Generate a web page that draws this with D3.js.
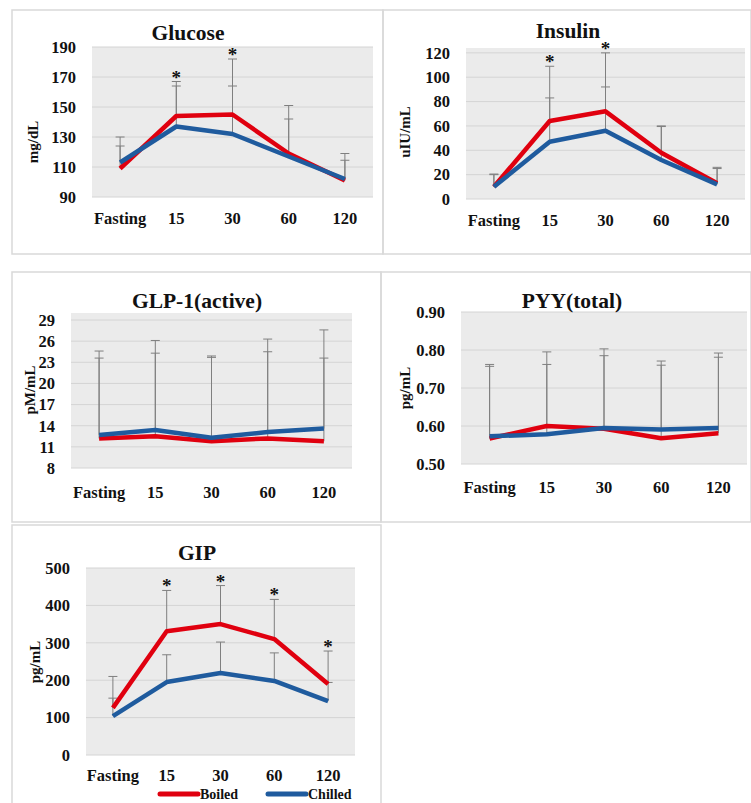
<!DOCTYPE html>
<html>
<head>
<meta charset="utf-8">
<script src="https://cdn.jsdelivr.net/npm/d3@7"></script>
<style>
  body { margin: 0; background: #fff; }
  text { font-family: "Liberation Serif", "DejaVu Serif", serif; font-weight: bold; fill: #111; }
</style>
</head>
<body>
<div id="chart"></div>
<script>
// categories (time points)
var categories = ["Fasting", "15", "30", "60", "120"];

// Glucose (mg/dL)
var glucoseBoiled = [109, 144, 145, 119, 101];
var glucoseChilled = [113, 137, 132, 117, 102];
var glucoseBoiledSD = [130, 167, 182, 151, 119];
var glucoseChilledSD = [124, 164, 164, 142, 114.5];
var glucoseSig = [0, 1, 1, 0, 0];
var glucoseTicks = [90, 110, 130, 150, 170, 190];

// Insulin (uIU/mL)
var insulinBoiled = [10, 64, 72, 38, 13];
var insulinChilled = [10, 47, 56, 32, 12];
var insulinBoiledSD = [20.5, 109, 120, 60, 26];
var insulinChilledSD = [20, 83, 92, 59.5, 25];
var insulinSig = [0, 1, 1, 0, 0];
var insulinTicks = [0, 20, 40, 60, 80, 100, 120];

// GLP-1 active (pM/mL)
var glpBoiled = [12.2, 12.5, 11.8, 12.2, 11.8];
var glpChilled = [12.7, 13.4, 12.3, 13.1, 13.6];
var glpBoiledSD = [24.6, 26.1, 23.9, 26.3, 27.6];
var glpChilledSD = [23.6, 24.3, 23.7, 24.5, 23.6];
var glpSig = [0, 0, 0, 0, 0];
var glpTicks = [8, 11, 14, 17, 20, 23, 26, 29];

// PYY total (pg/mL)
var pyyBoiled = [0.567, 0.600, 0.593, 0.568, 0.581];
var pyyChilled = [0.573, 0.578, 0.595, 0.591, 0.595];
var pyyBoiledSD = [0.762, 0.795, 0.803, 0.771, 0.792];
var pyyChilledSD = [0.757, 0.762, 0.785, 0.760, 0.781];
var pyySig = [0, 0, 0, 0, 0];
var pyyTicks = [0.50, 0.60, 0.70, 0.80, 0.90];

// GIP (pg/mL)
var gipBoiled = [126, 331, 350, 310, 190];
var gipChilled = [104, 195, 219, 198, 144];
var gipBoiledSD = [210, 440, 453, 416, 278];
var gipChilledSD = [152, 268, 302, 273, 194];
var gipSig = [0, 1, 1, 1, 1];
var gipTicks = [0, 100, 200, 300, 400, 500];

var seriesNames = ["Boiled", "Chilled"];
var colors = {Boiled: "#e0000f", Chilled: "#1f5b9e"};

var panels = [
  {title: "Glucose", unit: "mg/dL", boiled: glucoseBoiled, chilled: glucoseChilled,
   boiledSD: glucoseBoiledSD, chilledSD: glucoseChilledSD, sig: glucoseSig, ticks: glucoseTicks,
   domain: [90, 190], fmt: d3.format("d"),
   box: [12, 10, 383, 254], plot: {l: 92, r: 373, t: 47, b: 197},
   titleX: 188, titleY: 32, labX: 33, labY: 142, catY: 218},
  {title: "Insulin", unit: "uIU/mL", boiled: insulinBoiled, chilled: insulinChilled,
   boiledSD: insulinBoiledSD, chilledSD: insulinChilledSD, sig: insulinSig, ticks: insulinTicks,
   domain: [0, 124], fmt: d3.format("d"),
   box: [383, 10, 751, 254], plot: {l: 466, r: 745, t: 48, b: 199},
   titleX: 568, titleY: 30, labX: 405, labY: 132, catY: 220},
  {title: "GLP-1(active)", unit: "pM/mL", boiled: glpBoiled, chilled: glpChilled,
   boiledSD: glpBoiledSD, chilledSD: glpChilledSD, sig: glpSig, ticks: glpTicks,
   domain: [8, 30], fmt: d3.format("d"),
   box: [12, 272, 381, 522], plot: {l: 71, r: 352, t: 313, b: 468},
   titleX: 197, titleY: 300, labX: 30, labY: 390, catY: 492},
  {title: "PYY(total)", unit: "pg/mL", boiled: pyyBoiled, chilled: pyyChilled,
   boiledSD: pyyBoiledSD, chilledSD: pyyChilledSD, sig: pyySig, ticks: pyyTicks,
   domain: [0.5, 0.9], fmt: d3.format(".2f"),
   box: [381, 272, 751, 522], plot: {l: 461, r: 747, t: 312, b: 464},
   titleX: 572, titleY: 300, labX: 405, labY: 388, catY: 487},
  {title: "GIP", unit: "pg/mL", boiled: gipBoiled, chilled: gipChilled,
   boiledSD: gipBoiledSD, chilledSD: gipChilledSD, sig: gipSig, ticks: gipTicks,
   domain: [0, 500], fmt: d3.format("d"),
   box: [12, 525, 381, 812], plot: {l: 86, r: 355, t: 568, b: 755},
   titleX: 197, titleY: 552, labX: 35, labY: 662, catY: 775}
];

var svg = d3.select("#chart").append("svg")
  .attr("width", 751)
  .attr("height", 803);

panels.forEach(function(p) {
  var g = svg.append("g");

  // cadre du panneau
  g.append("rect")
    .attr("x", p.box[0]).attr("y", p.box[1])
    .attr("width", p.box[2] - p.box[0]).attr("height", p.box[3] - p.box[1])
    .attr("fill", "none").attr("stroke", "#d9d9d9").attr("stroke-width", 1.5);

  var x = d3.scaleBand().domain(categories).range([p.plot.l, p.plot.r]);
  var y = d3.scaleLinear().domain(p.domain).range([p.plot.b, p.plot.t]);

  // fond gris
  g.append("rect")
    .attr("x", p.plot.l).attr("y", p.plot.t)
    .attr("width", p.plot.r - p.plot.l).attr("height", p.plot.b - p.plot.t)
    .attr("fill", "#ebebeb");

  // grille
  g.selectAll(".grid").data(p.ticks).enter().append("line")
    .attr("x1", p.plot.l).attr("x2", p.plot.r)
    .attr("y1", function(d) { return y(d); }).attr("y2", function(d) { return y(d); })
    .attr("stroke", "#d4d4d4").attr("stroke-width", 1);

  // axe Y
  var yAxis = g.append("g")
    .attr("transform", "translate(" + (p.plot.l - 8) + ",0)")
    .call(d3.axisLeft(y).tickValues(p.ticks).tickFormat(p.fmt).tickSize(0).tickPadding(8));
  yAxis.select(".domain").remove();
  yAxis.selectAll("text").style("font-size", "16.5px").style("font-family", null).attr("fill", "#111");

  // axe X
  var xAxis = g.append("g")
    .attr("transform", "translate(0," + p.catY + ")")
    .call(d3.axisBottom(x).tickSize(0).tickPadding(0));
  xAxis.select(".domain").remove();
  xAxis.selectAll("text").style("font-size", "16.5px").style("font-family", null)
    .attr("fill", "#111").attr("dy", "0.35em");

  // titre
  g.append("text")
    .attr("x", p.titleX).attr("y", p.titleY)
    .attr("text-anchor", "middle").attr("dy", "0.35em")
    .style("font-size", "21.5px")
    .text(p.title);

  // unité
  g.append("text")
    .attr("transform", "translate(" + p.labX + "," + p.labY + ") rotate(-90)")
    .attr("text-anchor", "middle").attr("dy", "0.35em")
    .style("font-size", "15px")
    .text(p.unit);

  // barres d'erreur
  var sets = [
    {name: "Boiled", mean: p.boiled, sd: p.boiledSD},
    {name: "Chilled", mean: p.chilled, sd: p.chilledSD}
  ];
  sets.forEach(function(s) {
    var eb = g.append("g");
    var d = categories.map(function(c, i) { return {c: c, m: s.mean[i], u: s.sd[i]}; });
    eb.selectAll(".v").data(d).enter().append("line")
      .attr("x1", function(d) { return x(d.c) + x.bandwidth() / 2; })
      .attr("x2", function(d) { return x(d.c) + x.bandwidth() / 2; })
      .attr("y1", function(d) { return y(d.m); })
      .attr("y2", function(d) { return y(d.u); })
      .attr("stroke", "#7f7f7f").attr("stroke-width", 1);
    eb.selectAll(".cap").data(d).enter().append("line")
      .attr("x1", function(d) { return x(d.c) + x.bandwidth() / 2 - 4.5; })
      .attr("x2", function(d) { return x(d.c) + x.bandwidth() / 2 + 4.5; })
      .attr("y1", function(d) { return y(d.u); })
      .attr("y2", function(d) { return y(d.u); })
      .attr("stroke", "#7f7f7f").attr("stroke-width", 1);
  });

  // courbes
  var line = d3.line()
    .x(function(d) { return x(d.c) + x.bandwidth() / 2; })
    .y(function(d) { return y(d.v); });
  sets.forEach(function(s) {
    g.append("path")
      .datum(categories.map(function(c, i) { return {c: c, v: s.mean[i]}; }))
      .attr("d", line)
      .attr("fill", "none")
      .attr("stroke", colors[s.name])
      .attr("stroke-width", 4.5)
      .attr("stroke-linejoin", "round");
  });

  // astérisques
  categories.forEach(function(c, i) {
    if (!p.sig[i]) return;
    var top = Math.max(p.boiledSD[i], p.chilledSD[i]);
    g.append("text")
      .attr("x", x(c) + x.bandwidth() / 2)
      .attr("y", y(top) + 2)
      .attr("text-anchor", "middle")
      .style("font-size", "19px")
      .text("*");
  });
});

// légende
var legend = svg.append("g").attr("transform", "translate(160,794)");
var legendX = [0, 108];
seriesNames.forEach(function(n, i) {
  legend.append("line")
    .attr("x1", legendX[i]).attr("x2", legendX[i] + 38)
    .attr("y1", 0).attr("y2", 0)
    .attr("stroke", colors[n]).attr("stroke-width", 5)
    .attr("stroke-linecap", "round");
  legend.append("text")
    .attr("x", legendX[i] + 40).attr("y", 0)
    .attr("dy", "0.35em")
    .style("font-size", "14px")
    .text(n);
});
</script>
</body>
</html>
